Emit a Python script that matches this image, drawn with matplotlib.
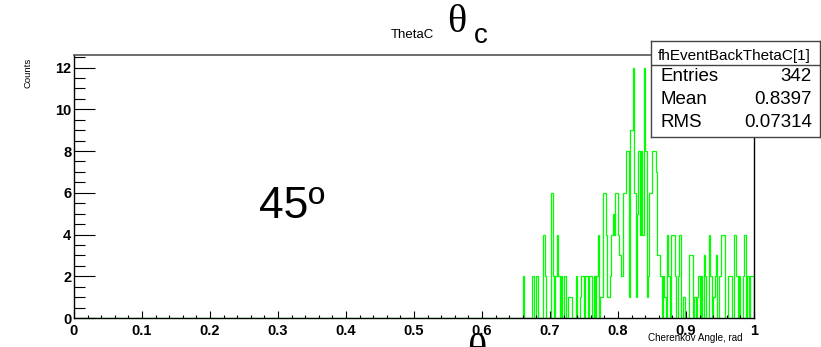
import numpy as np
import matplotlib
matplotlib.use("Agg")
import matplotlib.pyplot as plt
from matplotlib.ticker import MultipleLocator, FixedLocator

# ---------------- data ----------------
hist_lo = 0.0
hist_hi = 1.0
n_bins = 500
first_filled = 0.66          # counts below start at this x
counts = [2,0,0,0,0,0,0,2,0,0,2,0,0,0,0,4,2,0,0,0,
          0,6,2,0,2,4,2,0,2,0,2,2,0,1,1,1,0,0,0,2,
          0,0,1,2,2,0,2,2,0,2,2,0,2,0,2,4,0,1,1,6,
          6,4,1,1,2,4,5,4,6,6,4,3,2,2,6,6,8,8,1,9,9,12,6,1,5,8,4,8,4,12,8,1,2,6,6,8,8,
          8,7,3,3,2,0,2,1,0,4,2,0,4,4,4,2,0,2,4,0,0,1,0,0,0,3,3,3,0,1,0,1,2,0,
          2,0,3,2,0,0,4,2,0,1,2,3,0,2,2,4,4,4,0,0,2,2,2,0,4,4,2,0,2,0,0,2,4,0,2,0,2,2,2]
x_ticks = [0, 0.1, 0.2, 0.3, 0.4, 0.5, 0.6, 0.7, 0.8, 0.9, 1]
x_ticklabels = ["0", "0.1", "0.2", "0.3", "0.4", "0.5", "0.6", "0.7", "0.8", "0.9", "1"]
y_ticks = [0, 2, 4, 6, 8, 10, 12]
y_max = 12.6
stat_title = "fhEventBackThetaC[1]"
stat_names = ["Entries", "Mean", "RMS"]
stat_values = ["342", "0.8397", "0.07314"]
hist_title = "ThetaC"
x_label = "Cherenkov Angle, rad"
y_label = "Counts"
annotation = "45º"

# ---------------- figure ----------------
W, H = 821, 347
fig = plt.figure(figsize=(W / 100, H / 100), dpi=100)
fig.patch.set_facecolor("white")

def fx(px):
    return px / W

def fy(py):
    return 1 - py / H

ax = fig.add_axes([fx(74), fy(318), fx(754) - fx(74), fy(55) - fy(318)])

edges = np.linspace(hist_lo, hist_hi, n_bins + 1)
full = np.zeros(n_bins)
start = int(round((first_filled - hist_lo) / (hist_hi - hist_lo) * n_bins))
full[start:start + len(counts)] = counts
ax.stairs(full, edges, color="#00ff00", linewidth=0.9, baseline=0)

ax.set_xlim(hist_lo, hist_hi)
ax.set_ylim(0, y_max)

sans = ["Liberation Sans", "DejaVu Sans"]
ax.xaxis.set_major_locator(FixedLocator(x_ticks))
ax.set_xticklabels(x_ticklabels, fontsize=10.5, fontweight="bold", family=sans)
ax.xaxis.set_minor_locator(MultipleLocator(0.02))
ax.yaxis.set_major_locator(FixedLocator(y_ticks))
ax.set_yticklabels([str(v) for v in y_ticks], fontsize=10.5, fontweight="bold", family=sans)
ax.yaxis.set_minor_locator(MultipleLocator(0.5))

ax.tick_params(axis="x", which="major", direction="in", length=5, width=0.8, pad=4, colors="black")
ax.tick_params(axis="x", which="minor", direction="in", length=2.5, width=0.8)
ax.tick_params(axis="y", which="major", direction="in", length=15, width=0.8, pad=2)
ax.tick_params(axis="y", which="minor", direction="in", length=8, width=0.8)
ax.tick_params(top=False, right=False, which="both")

for s in ["left", "bottom", "right"]:
    ax.spines[s].set_color("black")
    ax.spines[s].set_linewidth(1.0)
ax.spines["top"].set_color("#555555")
ax.spines["top"].set_linewidth(1.2)

# axis titles
fig.text(fx(28), fy(73), y_label, rotation=90, ha="center", va="center",
         fontsize=6.8, family=sans)
fig.text(fx(743), fy(341), x_label, ha="right", va="baseline",
         fontsize=7.1, family=sans)

# title
fig.text(fx(391), fy(38), hist_title, ha="left", va="baseline", fontsize=9.5, family=sans)
serif = ["Liberation Serif", "DejaVu Serif"]
fig.text(fx(447), fy(32), "θ", ha="left", va="baseline", fontsize=29, family=serif)
fig.text(fx(474), fy(43), "c", ha="left", va="baseline", fontsize=20, family=sans)

# annotation
fig.text(fx(259), fy(218), annotation, ha="left", va="baseline", fontsize=32, family=sans)

# clipped theta at the bottom
fig.text(fx(467), fy(361), "θ", ha="left", va="baseline", fontsize=29, family=serif)

# stats box
bx0, bx1, by0, by1 = 651, 820, 41, 137
box_ax = fig.add_axes([fx(bx0), fy(by1), fx(bx1) - fx(bx0), fy(by0) - fy(by1)])
box_ax.set_xlim(bx0, bx1)
box_ax.set_ylim(by1, by0)
box_ax.set_xticks([])
box_ax.set_yticks([])
box_ax.set_facecolor("white")
for s in box_ax.spines.values():
    s.set_color("#444444")
    s.set_linewidth(1.0)
box_ax.plot([bx0, bx1], [65, 65], color="#444444", lw=1.0)
box_ax.text((bx0 + bx1) / 2 - 1, 60, stat_title, ha="center", va="baseline",
            fontsize=11, family=sans)
baselines = [81, 104, 127]
for name, val, yb in zip(stat_names, stat_values, baselines):
    box_ax.text(661, yb, name, ha="left", va="baseline", fontsize=13.5, family=sans)
    box_ax.text(812, yb, val, ha="right", va="baseline", fontsize=13.5, family=sans)

fig.savefig("out.png", dpi=100, facecolor="white")
